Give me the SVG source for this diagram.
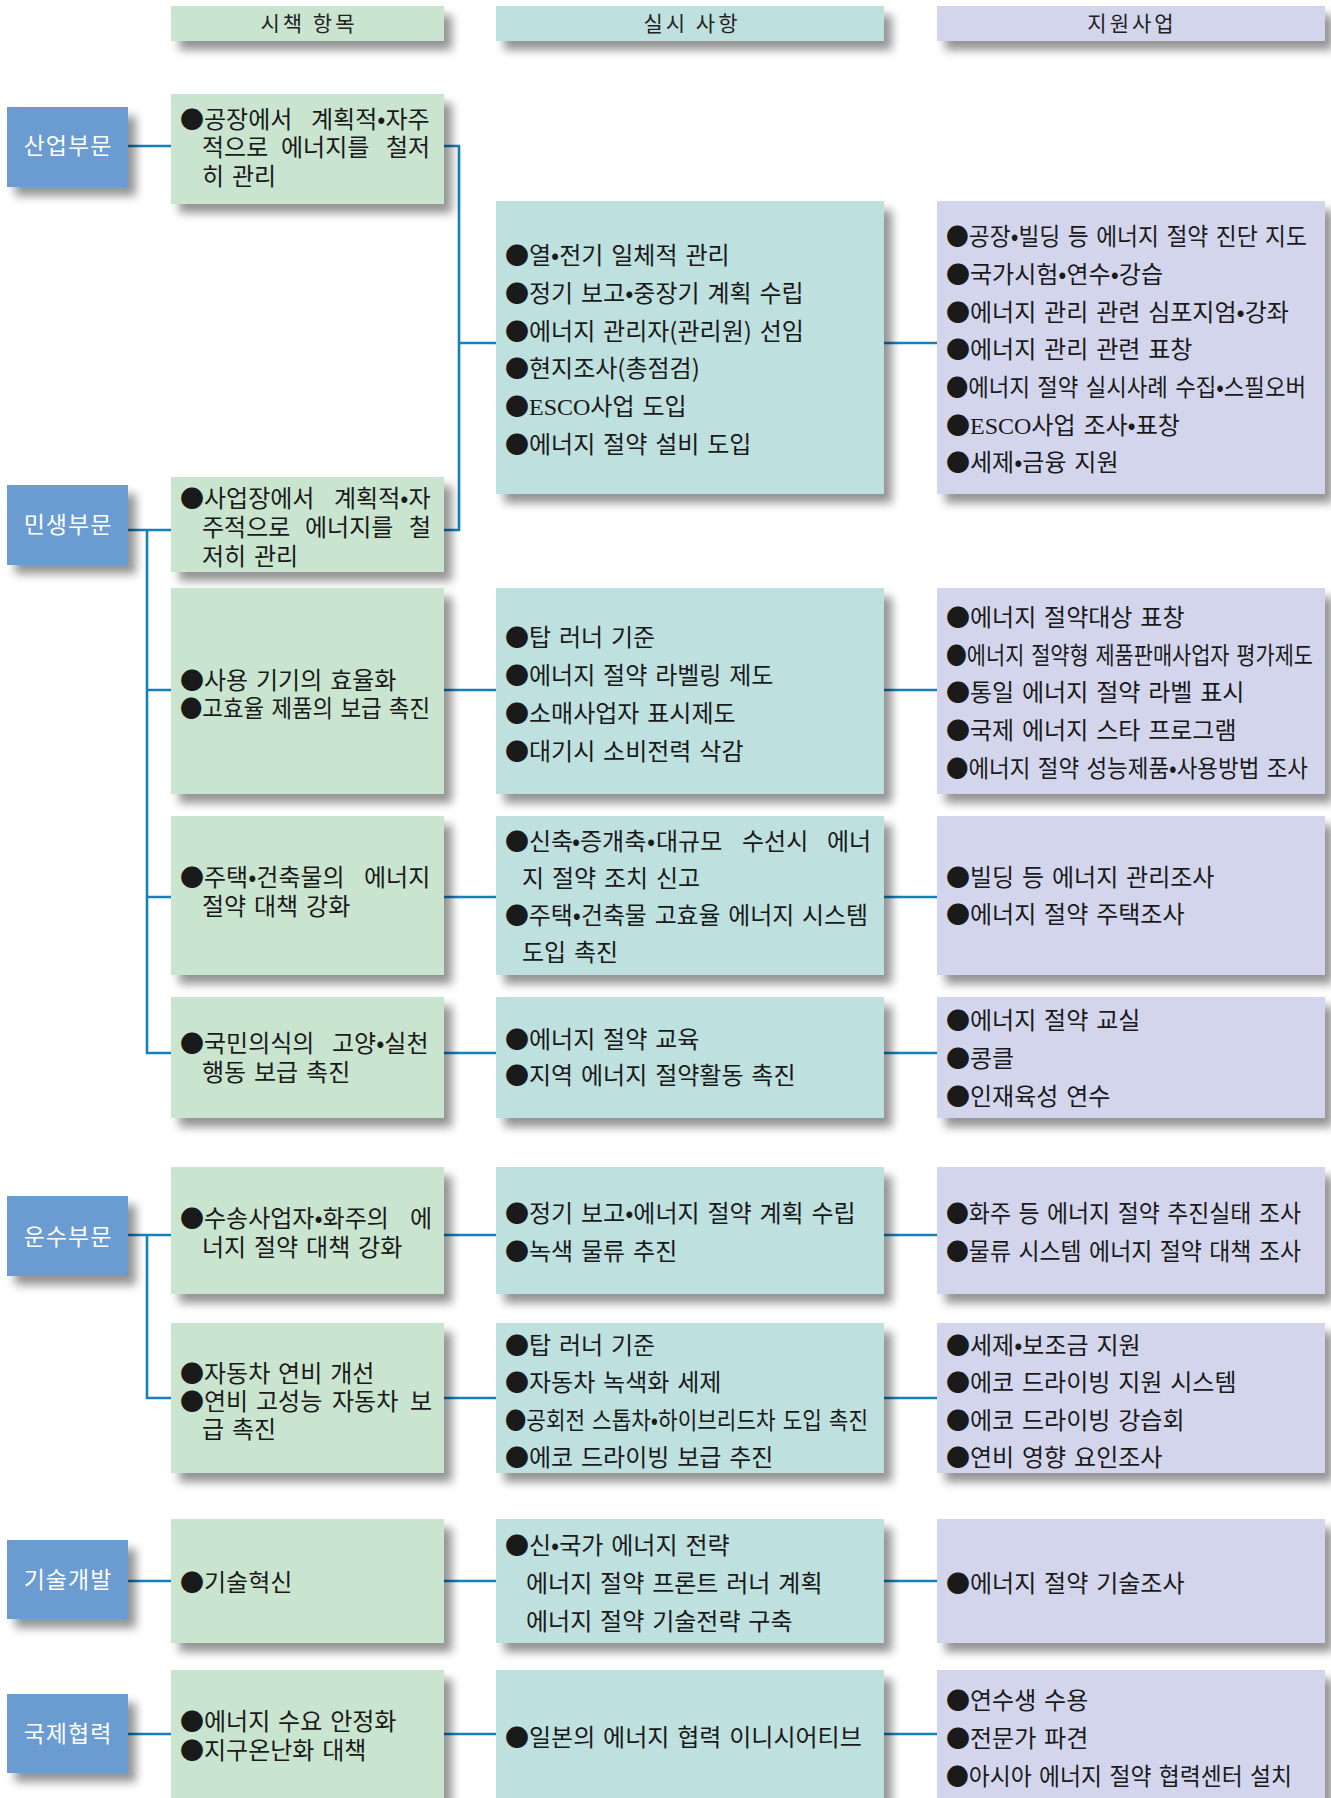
<svg xmlns="http://www.w3.org/2000/svg" width="1331" height="1798" viewBox="0 0 1331 1798">
<defs>
<filter id="sh" x="-5%" y="-20%" width="120%" height="230%">
<feDropShadow dx="8" dy="9" stdDeviation="5" flood-color="#000" flood-opacity="0.42"/>
</filter>
<style>
.c1{fill:#c9e4cf;filter:url(#sh)}
.c2{fill:#bee0de;filter:url(#sh)}
.c3{fill:#d3d5ec;filter:url(#sh)}
.cat{fill:#6a9bd1;filter:url(#sh)}
text{font-family:"Noto Sans CJK KR","Noto Sans",sans-serif}
.t{font-size:24px;fill:#1a1a1a;word-spacing:2.5px}
.ht{font-size:21px;fill:#222;text-anchor:middle;letter-spacing:3px}
.ct{font-size:23px;fill:#fff;text-anchor:middle;letter-spacing:1px}
.lat{font-family:"Liberation Serif",serif}
.ln{fill:none;stroke:#1580bb;stroke-width:2.6}
</style>
</defs>
<rect width="1331" height="1798" fill="#fff"/>

<g id="connectors">
<path class="ln" d="M128,146H171M444,146H459V530H444M459,343H496M884,343H937"/>
<path class="ln" d="M128,530H171M147,530V1053H171M147,690H171M147,897H171"/>
<path class="ln" d="M444,690H496M884,690H937M444,897H496M884,897H937M444,1053H496M884,1053H937"/>
<path class="ln" d="M128,1235H171M147,1235V1398H171M444,1235H496M884,1235H937M444,1398H496M884,1398H937"/>
<path class="ln" d="M128,1581H171M444,1581H496M884,1581H937"/>
<path class="ln" d="M128,1734H171M444,1734H496M884,1734H937"/>
</g>

<g id="h1"><rect class="c1" x="171" y="6" width="273" height="35"/><text class="ht" x="309" y="31">시책 항목</text></g>
<g id="h2"><rect class="c2" x="496" y="6" width="388" height="35"/><text class="ht" x="692" y="31">실시 사항</text></g>
<g id="h3"><rect class="c3" x="937" y="6" width="388" height="35"/><text class="ht" x="1132" y="31">지원사업</text></g>

<g id="cat-sanup"><rect class="cat" x="7" y="107" width="121" height="80"/><text class="ct" x="68" y="154">산업부문</text></g>
<g id="cat-minsaeng"><rect class="cat" x="7" y="485" width="121" height="80"/><text class="ct" x="68" y="533">민생부문</text></g>
<g id="cat-unsu"><rect class="cat" x="7" y="1196" width="121" height="80"/><text class="ct" x="68" y="1245">운수부문</text></g>
<g id="cat-gisul"><rect class="cat" x="7" y="1540" width="121" height="79"/><text class="ct" x="68" y="1588">기술개발</text></g>
<g id="cat-gukje"><rect class="cat" x="7" y="1694" width="121" height="79"/><text class="ct" x="68" y="1742">국제협력</text></g>

<g id="p-factory"><rect class="c1" x="171" y="94" width="273" height="110"/>
<text class="t" y="128"><tspan x="180">●공장에서</tspan><tspan x="311">계획적•자주</tspan></text>
<text class="t" y="156"><tspan x="202">적으로</tspan><tspan x="281">에너지를</tspan><tspan x="386">철저</tspan></text>
<text class="t" x="202" y="185">히 관리</text>
</g>
<g id="p-business"><rect class="c1" x="171" y="477" width="273" height="95"/>
<text class="t" y="507"><tspan x="180">●사업장에서</tspan><tspan x="334">계획적•자</tspan></text>
<text class="t" y="536"><tspan x="202">주적으로</tspan><tspan x="305">에너지를</tspan><tspan x="409">철</tspan></text>
<text class="t" x="202" y="565">저히 관리</text>
</g>
<g id="i-industry"><rect class="c2" x="496" y="201" width="388" height="293"/>
<text class="t" x="505" y="264">●열•전기 일체적 관리</text>
<text class="t" x="505" y="302">●정기 보고•중장기 계획 수립</text>
<text class="t" x="505" y="340">●에너지 관리자(관리원) 선임</text>
<text class="t" x="505" y="377">●현지조사(총점검)</text>
<text class="t" x="505" y="415">●<tspan class="lat">ESCO</tspan>사업 도입</text>
<text class="t" x="505" y="453">●에너지 절약 설비 도입</text>
</g>
<g id="s-industry"><rect class="c3" x="937" y="201" width="388" height="293"/>
<text class="t" x="946" y="245" textLength="361" lengthAdjust="spacingAndGlyphs">●공장•빌딩 등 에너지 절약 진단 지도</text>
<text class="t" x="946" y="283">●국가시험•연수•강습</text>
<text class="t" x="946" y="321">●에너지 관리 관련 심포지엄•강좌</text>
<text class="t" x="946" y="358">●에너지 관리 관련 표창</text>
<text class="t" x="946" y="396" textLength="360" lengthAdjust="spacingAndGlyphs">●에너지 절약 실시사례 수집•스필오버</text>
<text class="t" x="946" y="434">●<tspan class="lat">ESCO</tspan>사업 조사•표창</text>
<text class="t" x="946" y="471">●세제•금융 지원</text>
</g>

<g id="p-appliance"><rect class="c1" x="171" y="588" width="273" height="206"/>
<text class="t" x="180" y="689">●사용 기기의 효율화</text>
<text class="t" x="180" y="717" textLength="250" lengthAdjust="spacingAndGlyphs">●고효율 제품의 보급 촉진</text>
</g>
<g id="i-appliance"><rect class="c2" x="496" y="588" width="388" height="206"/>
<text class="t" x="505" y="646">●탑 러너 기준</text>
<text class="t" x="505" y="684">●에너지 절약 라벨링 제도</text>
<text class="t" x="505" y="722">●소매사업자 표시제도</text>
<text class="t" x="505" y="760">●대기시 소비전력 삭감</text>
</g>
<g id="s-appliance"><rect class="c3" x="937" y="588" width="388" height="206"/>
<text class="t" x="946" y="626">●에너지 절약대상 표창</text>
<text class="t" x="946" y="664" textLength="367" lengthAdjust="spacingAndGlyphs">●에너지 절약형 제품판매사업자 평가제도</text>
<text class="t" x="946" y="701">●통일 에너지 절약 라벨 표시</text>
<text class="t" x="946" y="739">●국제 에너지 스타 프로그램</text>
<text class="t" x="946" y="777" textLength="362" lengthAdjust="spacingAndGlyphs">●에너지 절약 성능제품•사용방법 조사</text>
</g>

<g id="p-building"><rect class="c1" x="171" y="816" width="273" height="159"/>
<text class="t" y="886"><tspan x="180">●주택•건축물의</tspan><tspan x="364">에너지</tspan></text>
<text class="t" x="202" y="915">절약 대책 강화</text>
</g>
<g id="i-building"><rect class="c2" x="496" y="816" width="388" height="159"/>
<text class="t" y="850"><tspan x="505">●신축</tspan><tspan x="572">•</tspan><tspan x="580">증개축</tspan><tspan x="647">•</tspan><tspan x="656">대규모</tspan><tspan x="742">수선시</tspan><tspan x="827">에너</tspan></text>
<text class="t" x="522" y="887">지 절약 조치 신고</text>
<text class="t" x="505" y="924" textLength="363" lengthAdjust="spacingAndGlyphs">●주택•건축물 고효율 에너지 시스템</text>
<text class="t" x="522" y="961">도입 촉진</text>
</g>
<g id="s-building"><rect class="c3" x="937" y="816" width="388" height="159"/>
<text class="t" x="946" y="886">●빌딩 등 에너지 관리조사</text>
<text class="t" x="946" y="923">●에너지 절약 주택조사</text>
</g>

<g id="p-awareness"><rect class="c1" x="171" y="997" width="273" height="121"/>
<text class="t" y="1052"><tspan x="180">●국민의식의</tspan><tspan x="332">고양•실천</tspan></text>
<text class="t" x="202" y="1081">행동 보급 촉진</text>
</g>
<g id="i-awareness"><rect class="c2" x="496" y="997" width="388" height="121"/>
<text class="t" x="505" y="1048">●에너지 절약 교육</text>
<text class="t" x="505" y="1084">●지역 에너지 절약활동 촉진</text>
</g>
<g id="s-awareness"><rect class="c3" x="937" y="997" width="388" height="121"/>
<text class="t" x="946" y="1029">●에너지 절약 교실</text>
<text class="t" x="946" y="1067">●콩클</text>
<text class="t" x="946" y="1105">●인재육성 연수</text>
</g>

<g id="p-freight"><rect class="c1" x="171" y="1167" width="273" height="127"/>
<text class="t" y="1227"><tspan x="180">●수송사업자•화주의</tspan><tspan x="410">에</tspan></text>
<text class="t" x="202" y="1256">너지 절약 대책 강화</text>
</g>
<g id="i-freight"><rect class="c2" x="496" y="1167" width="388" height="127"/>
<text class="t" x="505" y="1222">●정기 보고•에너지 절약 계획 수립</text>
<text class="t" x="505" y="1260">●녹색 물류 추진</text>
</g>
<g id="s-freight"><rect class="c3" x="937" y="1167" width="388" height="127"/>
<text class="t" x="946" y="1222" textLength="355" lengthAdjust="spacingAndGlyphs">●화주 등 에너지 절약 추진실태 조사</text>
<text class="t" x="946" y="1260" textLength="355" lengthAdjust="spacingAndGlyphs">●물류 시스템 에너지 절약 대책 조사</text>
</g>

<g id="p-car"><rect class="c1" x="171" y="1323" width="273" height="150"/>
<text class="t" x="180" y="1382">●자동차 연비 개선</text>
<text class="t" y="1410"><tspan x="180">●연비</tspan><tspan x="256">고성능</tspan><tspan x="332">자동차</tspan><tspan x="410">보</tspan></text>
<text class="t" x="202" y="1438">급 촉진</text>
</g>
<g id="i-car"><rect class="c2" x="496" y="1323" width="388" height="150"/>
<text class="t" x="505" y="1354">●탑 러너 기준</text>
<text class="t" x="505" y="1391">●자동차 녹색화 세제</text>
<text class="t" x="505" y="1429" textLength="363" lengthAdjust="spacingAndGlyphs">●공회전 스톱차•하이브리드차 도입 촉진</text>
<text class="t" x="505" y="1466">●에코 드라이빙 보급 추진</text>
</g>
<g id="s-car"><rect class="c3" x="937" y="1323" width="388" height="150"/>
<text class="t" x="946" y="1354">●세제•보조금 지원</text>
<text class="t" x="946" y="1391">●에코 드라이빙 지원 시스템</text>
<text class="t" x="946" y="1429">●에코 드라이빙 강습회</text>
<text class="t" x="946" y="1466">●연비 영향 요인조사</text>
</g>

<g id="p-tech"><rect class="c1" x="171" y="1519" width="273" height="124"/>
<text class="t" x="180" y="1591">●기술혁신</text>
</g>
<g id="i-tech"><rect class="c2" x="496" y="1519" width="388" height="124"/>
<text class="t" x="505" y="1554">●신•국가 에너지 전략</text>
<text class="t" x="526" y="1592">에너지 절약 프론트 러너 계획</text>
<text class="t" x="526" y="1630">에너지 절약 기술전략 구축</text>
</g>
<g id="s-tech"><rect class="c3" x="937" y="1519" width="388" height="124"/>
<text class="t" x="946" y="1592">●에너지 절약 기술조사</text>
</g>

<g id="p-intl"><rect class="c1" x="171" y="1670" width="273" height="140"/>
<text class="t" x="180" y="1730">●에너지 수요 안정화</text>
<text class="t" x="180" y="1759">●지구온난화 대책</text>
</g>
<g id="i-intl"><rect class="c2" x="496" y="1670" width="388" height="140"/>
<text class="t" x="505" y="1746">●일본의 에너지 협력 이니시어티브</text>
</g>
<g id="s-intl"><rect class="c3" x="937" y="1670" width="388" height="140"/>
<text class="t" x="946" y="1709">●연수생 수용</text>
<text class="t" x="946" y="1747">●전문가 파견</text>
<text class="t" x="946" y="1785" textLength="346" lengthAdjust="spacingAndGlyphs">●아시아 에너지 절약 협력센터 설치</text>
</g>
</svg>
